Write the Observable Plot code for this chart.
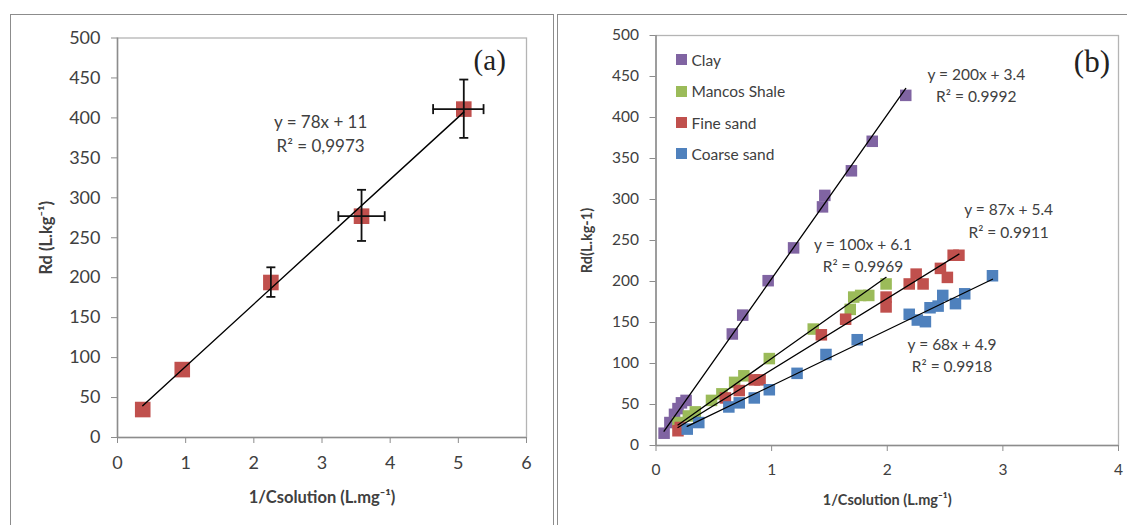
<!DOCTYPE html>
<html><head><meta charset="utf-8">
<script src="https://cdn.jsdelivr.net/npm/d3@7"></script>
<script src="https://cdn.jsdelivr.net/npm/@observablehq/plot@0.6"></script>
<style>
html,body{margin:0;padding:0;background:#fff;}
#wrap{position:relative;width:1127px;height:525px;overflow:hidden;font-family:Lato,sans-serif;}
.panel{position:absolute;border:1.5px solid #8c8c8c;box-sizing:border-box;}
#panelA{left:10px;top:14px;width:544px;height:540px;}
#panelB{left:557px;top:14px;width:600px;height:540px;}
#plotA{position:absolute;left:11px;top:15px;}
#plotB{position:absolute;left:558px;top:15px;}
#legend{position:absolute;left:675.5px;top:44.3px;color:#404040;font-size:15.5px;font-family:Lato,sans-serif;}
.row{height:31.3px;display:flex;align-items:center;white-space:nowrap;}
.sw{width:11px;height:11px;margin-right:5px;flex:none;}
</style></head><body>
<div id="wrap">
  <div class="panel" id="panelA"></div>
  <div class="panel" id="panelB"></div>
  <div id="plotA"></div>
  <div id="plotB"></div>
  <div id="legend"></div>
</div>
<script>
// ---------- Panel (a) data ----------
const aX = [0.37, 0.95, 2.25, 3.58, 5.08];
const aY = [35, 85, 194, 277, 411];
const aYLow = [null, null, 176, 246, 375];
const aYHigh = [null, null, 213, 310, 448];
const aXLow = [null, null, null, 3.24, 4.63];
const aXHigh = [null, null, null, 3.92, 5.37];
const aSlope = 78;
const aIntercept = 11;
const aEquation = "y = 78x + 11\nR² = 0,9973";
const aTag = "(a)";
const xTicksA = [0, 1, 2, 3, 4, 5, 6];
const yTicks = [0, 50, 100, 150, 200, 250, 300, 350, 400, 450, 500];

// ---------- Panel (b) data ----------
const seriesNames = ["Clay", "Mancos Shale", "Fine sand", "Coarse sand"];
const seriesColors = ["#8064A2", "#9BBB59", "#C0504D", "#4F81BD"];
const clayX = [0.07, 0.12, 0.16, 0.19, 0.22, 0.26, 0.66, 0.75, 0.97, 1.19, 1.44, 1.46, 1.69, 1.87, 2.16];
const clayY = [15, 28, 38, 45, 52, 55, 136, 159, 201, 241, 291, 305, 335, 371, 427];
const shaleX = [0.19, 0.28, 0.34, 0.48, 0.57, 0.68, 0.76, 0.98, 1.36, 1.68, 1.71, 1.77, 1.84, 1.99];
const shaleY = [28, 36, 41, 55, 63, 77, 85, 106, 142, 166, 181, 183, 183, 197];
const fineX = [0.19, 0.21, 0.60, 0.72, 0.85, 0.90, 1.43, 1.64, 1.99, 1.99, 2.19, 2.25, 2.31, 2.46, 2.52, 2.57, 2.62];
const fineY = [18, 22, 58, 67, 80, 80, 135, 154, 181, 169, 197, 209, 197, 216, 205, 232, 232];
const coarseX = [0.27, 0.37, 0.63, 0.72, 0.85, 0.98, 1.22, 1.47, 1.74, 2.19, 2.26, 2.33, 2.37, 2.44, 2.48, 2.59, 2.67, 2.91];
const coarseY = [20, 28, 47, 52, 58, 68, 88, 111, 129, 160, 153, 151, 168, 170, 183, 173, 185, 207];
const slopesB = [200, 100, 87, 68];
const interceptsB = [3.4, 6.1, 5.4, 4.9];
const equationsB = ["y = 200x + 3.4\nR² = 0.9992", "y = 100x + 6.1\nR² = 0.9969", "y = 87x + 5.4\nR² = 0.9911", "y = 68x + 4.9\nR² = 0.9918"];
const bTag = "(b)";
const xTicksB = [0, 1, 2, 3, 4];

// ---------- annotation anchors (data units) ----------
const aEqAt = [2.98, 382];
const aTagAt = [5.46, 471];
const bEqAt = [[2.77, 441], [1.79, 234], [3.05, 276], [2.56, 112]];
const bTagAt = [3.77, 468];

// ---------- helpers ----------
const hCap = {draw(ctx, size) { const r = Math.sqrt(size / Math.PI); ctx.moveTo(-r, 0); ctx.lineTo(r, 0); }};
const vCap = {draw(ctx, size) { const r = Math.sqrt(size / Math.PI); ctx.moveTo(0, -r); ctx.lineTo(0, r); }};
const axisGray = "#8c8c8c";
const frameGray = "#b4b4b4";
const textGray = "#404040";
const intFmt = d3.format("d");

function fitLine(xs, slope, intercept) {
  const lo = d3.min(xs), hi = d3.max(xs);
  return [{x: lo, y: slope * lo + intercept}, {x: hi, y: slope * hi + intercept}];
}

// ---------- Panel (a) ----------
const rowsA = aX.map((x, i) => ({x, y: aY[i], yLo: aYLow[i], yHi: aYHigh[i], xLo: aXLow[i], xHi: aXHigh[i]}));
const vErr = rowsA.filter(d => d.yLo != null);
const hErr = rowsA.filter(d => d.xLo != null);
const vCaps = vErr.flatMap(d => [{x: d.x, y: d.yLo}, {x: d.x, y: d.yHi}]);
const hCaps = hErr.flatMap(d => [{x: d.xLo, y: d.y}, {x: d.xHi, y: d.y}]);

const plotA = Plot.plot({
  width: 542, height: 510,
  marginLeft: 106, marginRight: 27, marginTop: 22.5, marginBottom: 88,
  style: {fontFamily: "Lato, sans-serif", fontSize: "18px", color: textGray, background: "transparent", overflow: "visible"},
  x: {domain: [0, 6]},
  y: {domain: [0, 500]},
  marks: [
    Plot.frame({stroke: frameGray, strokeWidth: 1.3}),
    Plot.ruleX([0], {stroke: axisGray, strokeWidth: 1.5}),
    Plot.ruleY([0], {stroke: axisGray, strokeWidth: 1.5}),
    Plot.axisX({ticks: xTicksA, tickFormat: intFmt, tickSize: 6, tickPadding: 13, stroke: axisGray, fill: textGray, label: null}),
    Plot.axisY({ticks: yTicks, tickFormat: intFmt, tickSize: 6, tickPadding: 11, stroke: axisGray, fill: textGray, label: null}),
    Plot.axisX({ticks: [], label: "1/Csolution (L.mg⁻¹)", labelAnchor: "center", labelArrow: "none", labelOffset: 65, fontWeight: "bold", fontSize: 16.5, fill: textGray}),
    Plot.axisY({ticks: [], label: "Rd (L.kg⁻¹)", labelAnchor: "center", labelArrow: "none", labelOffset: 77, fontWeight: "bold", fontSize: 16.5, fill: textGray}),
    Plot.dot(rowsA, {x: "x", y: "y", symbol: "square", r: 8.8, fill: "#C0504D", stroke: "none"}),
    Plot.ruleX(vErr, {x: "x", y1: "yLo", y2: "yHi", stroke: "#111", strokeWidth: 1.8}),
    Plot.dot(vCaps, {x: "x", y: "y", symbol: hCap, r: 4.5, stroke: "#111", strokeWidth: 1.8, fill: "none"}),
    Plot.ruleY(hErr, {y: "y", x1: "xLo", x2: "xHi", stroke: "#111", strokeWidth: 1.8}),
    Plot.dot(hCaps, {x: "x", y: "y", symbol: vCap, r: 5, stroke: "#111", strokeWidth: 1.8, fill: "none"}),
    Plot.line(fitLine(aX, aSlope, aIntercept), {x: "x", y: "y", stroke: "#000", strokeWidth: 1.4}),
    Plot.text([aEquation], {x: () => aEqAt[0], y: () => aEqAt[1], text: d => d, fontSize: 17, lineHeight: 1.41, fill: textGray}),
    Plot.text([aTag], {x: () => aTagAt[0], y: () => aTagAt[1], text: d => d, fontSize: 29, fontFamily: "Liberation Serif, serif", fill: "#222"})
  ]
});
document.getElementById("plotA").append(plotA);

// ---------- Panel (b) ----------
const xsB = [clayX, shaleX, fineX, coarseX];
const ysB = [clayY, shaleY, fineY, coarseY];
const pointsB = seriesNames.flatMap((s, k) => xsB[k].map((x, i) => ({series: s, x, y: ysB[k][i]})));
const linesB = seriesNames.flatMap((s, k) => fitLine(xsB[k], slopesB[k], interceptsB[k]).map(p => ({series: s, ...p})));
const eqB = equationsB.map((t, k) => ({text: t, x: bEqAt[k][0], y: bEqAt[k][1]}));

const plotB = Plot.plot({
  width: 569, height: 510,
  marginLeft: 97.5, marginRight: 9, marginTop: 20, marginBottom: 80,
  style: {fontFamily: "Lato, sans-serif", fontSize: "15.5px", color: textGray, background: "transparent", overflow: "visible"},
  x: {domain: [0, 4]},
  y: {domain: [0, 500]},
  color: {domain: seriesNames, range: seriesColors},
  marks: [
    Plot.frame({stroke: frameGray, strokeWidth: 1.3}),
    Plot.ruleX([0], {stroke: axisGray, strokeWidth: 1.5}),
    Plot.ruleY([0], {stroke: axisGray, strokeWidth: 1.5}),
    Plot.axisX({ticks: xTicksB, tickFormat: intFmt, tickSize: 6, tickPadding: 12, stroke: axisGray, fill: textGray, label: null}),
    Plot.axisY({ticks: yTicks, tickFormat: intFmt, tickSize: 6, tickPadding: 11, stroke: axisGray, fill: textGray, label: null}),
    Plot.axisX({ticks: [], label: "1/Csolution (L.mg⁻¹)", labelAnchor: "center", labelArrow: "none", labelOffset: 59, fontWeight: "bold", fontSize: 14.5, fill: textGray}),
    Plot.axisY({ticks: [], label: "Rd(L.kg-1)", labelAnchor: "center", labelArrow: "none", labelOffset: 74, fontWeight: "bold", fontSize: 14.5, fill: textGray}),
    Plot.dot(pointsB, {x: "x", y: "y", symbol: "square", r: 6.5, fill: "series", stroke: "none"}),
    Plot.line(linesB, {x: "x", y: "y", z: "series", stroke: "#000", strokeWidth: 1.3}),
    Plot.text(eqB, {x: "x", y: "y", text: "text", fontSize: 15.5, lineHeight: 1.45, fill: textGray}),
    Plot.text([bTag], {x: () => bTagAt[0], y: () => bTagAt[1], text: d => d, fontSize: 31, fontFamily: "Liberation Serif, serif", fill: "#222"})
  ]
});
document.getElementById("plotB").append(plotB);

// ---------- legend (panel b) ----------
const legend = document.getElementById("legend");
seriesNames.forEach((s, k) => {
  const row = document.createElement("div");
  row.className = "row";
  const sw = document.createElement("span");
  sw.className = "sw";
  sw.style.background = seriesColors[k];
  const lab = document.createElement("span");
  lab.textContent = s;
  row.append(sw, lab);
  legend.append(row);
});
</script>
</body></html>
